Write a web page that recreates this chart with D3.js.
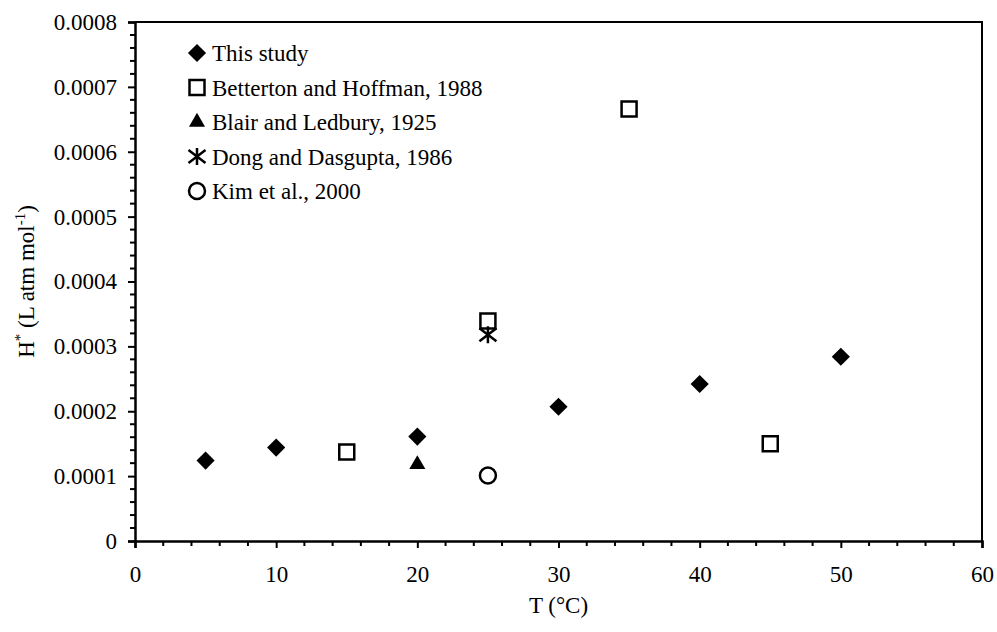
<!DOCTYPE html>
<html>
<head>
<meta charset="utf-8">
<script src="https://cdn.jsdelivr.net/npm/d3@7"></script>
<style>
  html, body { margin: 0; padding: 0; background: #fff; }
  svg text {
    font-family: "Liberation Serif", "Tinos", "Times New Roman", Times, "Nimbus Roman", "DejaVu Serif", serif !important;
    fill: #000;
  }
</style>
</head>
<body>
<svg id="chart" width="997" height="632"></svg>
<script>
// Henry's law constant versus temperature, several literature sources
const seriesNames = [
  "This study",
  "Betterton and Hoffman, 1988",
  "Blair and Ledbury, 1925",
  "Dong and Dasgupta, 1986",
  "Kim et al., 2000"
];
const thisStudyT = [5, 10, 20, 30, 40, 50];
const thisStudyH = [0.000124, 0.000144, 0.000161, 0.000207, 0.000242, 0.000284];
const bettertonT = [15, 25, 35, 45];
const bettertonH = [0.000137, 0.000339, 0.000666, 0.000150];
const blairT = [20];
const blairH = [0.000118];
const dongT = [25];
const dongH = [0.000318];
const kimT = [25];
const kimH = [0.000101];
const xTicks = [0, 10, 20, 30, 40, 50, 60];
const yTicks = [0, 0.0001, 0.0002, 0.0003, 0.0004, 0.0005, 0.0006, 0.0007, 0.0008];

const W = 997, H = 632;
const margin = { left: 135, right: 15, top: 22, bottom: 91 };
const serif = '"Liberation Serif", "Tinos", "Times New Roman", Times, "Nimbus Roman", "DejaVu Serif", serif';
const svg = d3.select("#chart").attr("font-family", serif);

const x = d3.scaleLinear().domain([0, 60]).range([margin.left, W - margin.right]);
const y = d3.scaleLinear().domain([0, 0.0008]).range([H - margin.bottom, margin.top]);

const fontSize = 23;

// plot frame (top and right edges)
svg.append("path")
  .attr("d", `M${x(0)},${y(0.0008)}H${x(60)}V${y(0)}`)
  .attr("fill", "none").attr("stroke", "#000").attr("stroke-width", 2);

// minor ticks
const xMinor = d3.range(0, 60.001, 2).filter(v => v % 10 !== 0);
const yMinor = d3.range(0, 0.00080001, 0.00002).filter(v => Math.abs(Math.round(v / 0.0001) * 0.0001 - v) > 1e-9);

const xAxis = svg.append("g").attr("transform", `translate(0,${y(0)})`);
xAxis.selectAll("line.minor").data(xMinor).join("line")
  .attr("x1", d => x(d)).attr("x2", d => x(d)).attr("y1", 0).attr("y2", 5)
  .attr("stroke", "#000").attr("stroke-width", 2);
xAxis.call(d3.axisBottom(x).tickValues(xTicks).tickSize(7).tickPadding(18).tickFormat(d3.format("d")));

const yAxis = svg.append("g").attr("transform", `translate(${x(0)},0)`);
yAxis.selectAll("line.minor").data(yMinor).join("line")
  .attr("x1", 0).attr("x2", -5).attr("y1", d => y(d)).attr("y2", d => y(d))
  .attr("stroke", "#000").attr("stroke-width", 2);
yAxis.call(d3.axisLeft(y).tickValues(yTicks).tickSize(7).tickPadding(11)
  .tickFormat(d => d === 0 ? "0" : d3.format(".4f")(d)));

[xAxis, yAxis].forEach(g => {
  g.attr("font-family", serif);
  g.select(".domain").attr("stroke", "#000").attr("stroke-width", 2.5);
  g.selectAll(".tick line").attr("stroke", "#000").attr("stroke-width", 2);
  g.selectAll(".tick text").attr("font-size", fontSize).attr("font-family", serif);
});

// axis titles
svg.append("text")
  .attr("x", (x(0) + x(60)) / 2).attr("y", 613)
  .attr("text-anchor", "middle").attr("font-size", fontSize)
  .text("T (°C)");

const yTitle = svg.append("text")
  .attr("transform", `translate(34,${(y(0) + y(0.0008)) / 2}) rotate(-90)`)
  .attr("text-anchor", "middle").attr("font-size", fontSize);
yTitle.append("tspan").text("H");
yTitle.append("tspan").attr("font-size", 15).attr("dy", -9).text("*");
yTitle.append("tspan").attr("dy", 9).text(" (L atm mol");
yTitle.append("tspan").attr("font-size", 15).attr("dy", -9).text("-1");
yTitle.append("tspan").attr("dy", 9).text(")");

// marker shapes
const diamond = d3.symbol().type(d3.symbolSquare).size(165)();
const triangle = d3.symbol().type(d3.symbolTriangle).size(112)();
const asterisk = "M0,-8.5V8.5M-8.5,-6.5L8.5,6.5M-8.5,6.5L8.5,-6.5";

const styles = [
  { path: diamond, rotate: 45, fill: "#000", stroke: "none", sw: 0 },
  { path: "M-7.5,-7.5H7.5V7.5H-7.5Z", rotate: 0, fill: "none", stroke: "#000", sw: 2.5 },
  { path: triangle, rotate: 0, fill: "#000", stroke: "none", sw: 0 },
  { path: asterisk, rotate: 0, fill: "none", stroke: "#000", sw: 2.5 },
  { path: "M0,-8A8,8 0 1,1 0,8A8,8 0 1,1 0,-8Z", rotate: 0, fill: "none", stroke: "#000", sw: 2.5 }
];

const series = [
  { t: thisStudyT, h: thisStudyH },
  { t: bettertonT, h: bettertonH },
  { t: blairT, h: blairH },
  { t: dongT, h: dongH },
  { t: kimT, h: kimH }
];

function drawMarker(g, s, cx, cy) {
  g.append("path")
    .attr("d", s.path)
    .attr("transform", `translate(${cx},${cy}) rotate(${s.rotate})`)
    .attr("fill", s.fill).attr("stroke", s.stroke).attr("stroke-width", s.sw);
}

const marks = svg.append("g");
series.forEach((sr, i) => {
  sr.t.forEach((t, j) => drawMarker(marks, styles[i], x(t), y(sr.h[j])));
});

// legend
const legend = svg.append("g");
seriesNames.forEach((name, i) => {
  const cy = 53 + i * 34.5;
  drawMarker(legend, styles[i], 197, cy);
  legend.append("text")
    .attr("x", 212).attr("y", cy + 8)
    .attr("font-size", fontSize).text(name);
});
</script>
</body>
</html>
